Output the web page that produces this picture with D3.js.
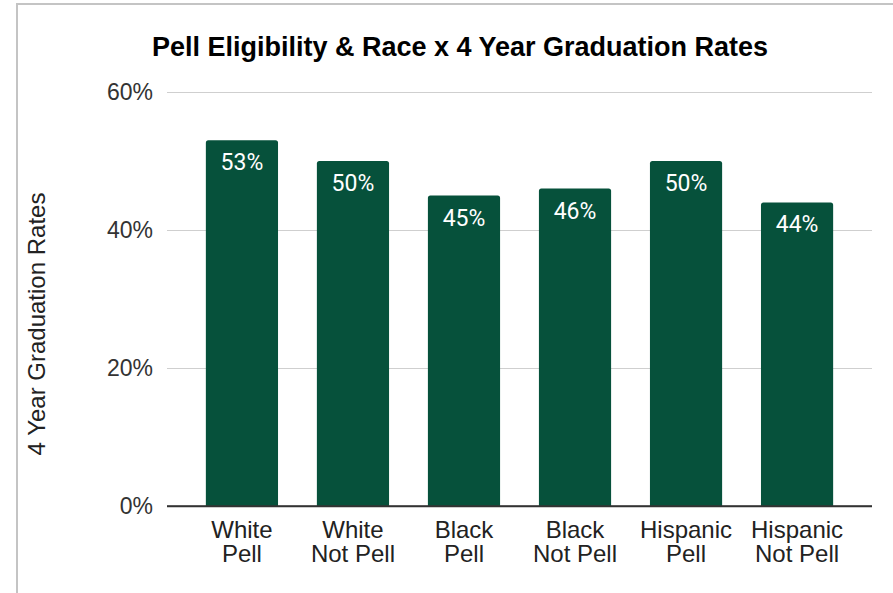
<!DOCTYPE html>
<html>
<head>
<meta charset="utf-8">
<script src="https://cdn.jsdelivr.net/npm/d3@7"></script>
<style>
  html, body { margin: 0; padding: 0; background: #fff; }
  svg { display: block; }
</style>
</head>
<body>
<svg id="chart" width="893" height="593"></svg>
<script>
// Groups along the x axis (each label is drawn on two lines)
const categories = ["White Pell", "White Not Pell", "Black Pell", "Black Not Pell", "Hispanic Pell", "Hispanic Not Pell"];
const categoryLines = [["White", "Pell"], ["White", "Not Pell"], ["Black", "Pell"], ["Black", "Not Pell"], ["Hispanic", "Pell"], ["Hispanic", "Not Pell"]];
// 4-year graduation rate, in percent
const rates = [53, 50, 45, 46, 50, 44];
const yTicks = [0, 20, 40, 60];

const title = "Pell Eligibility & Race x 4 Year Graduation Rates";
const yTitle = "4 Year Graduation Rates";

const svg = d3.select("#chart");
const W = 893, H = 593;
const plot = { left: 167, right: 872, top: 92, bottom: 506 };
const barColor = "#06513b";

// outer frame
svg.append("rect")
  .attr("x", 17).attr("y", 4)
  .attr("width", W + 20).attr("height", H + 20)
  .attr("fill", "#fff")
  .attr("stroke", "#c4c4c4").attr("stroke-width", 2);

const x = d3.scaleBand()
  .domain(categories)
  .range([plot.left, plot.right])
  .paddingInner(0.35)
  .paddingOuter(0.35);

const y = d3.scaleLinear()
  .domain([0, 60])
  .range([plot.bottom, plot.top]);

// gridlines + tick labels
const yAxis = d3.axisLeft(y)
  .tickValues(yTicks)
  .tickFormat(d => d + "%")
  .tickSize(-(plot.right - plot.left))
  .tickPadding(14);

const gy = svg.append("g")
  .attr("transform", `translate(${plot.left},0)`)
  .call(yAxis);
gy.select(".domain").remove();
gy.selectAll(".tick line")
  .attr("stroke", d => d === 0 ? "#333" : "#cfcfcf")
  .attr("stroke-width", d => d === 0 ? 1.3 : 1.2);
gy.selectAll(".tick text")
  .attr("font-family", "'Liberation Sans', Arial, sans-serif")
  .attr("font-size", 23)
  .attr("fill", "#333");

// bars with slightly rounded tops
const r = 2.5;
function barPath(d, i) {
  const x0 = x(categories[i]);
  const w = x.bandwidth();
  const yt = y(d);
  const yb = y(0);
  return `M${x0},${yb}V${yt + r}Q${x0},${yt} ${x0 + r},${yt}H${x0 + w - r}Q${x0 + w},${yt} ${x0 + w},${yt + r}V${yb}Z`;
}

svg.append("g")
  .selectAll("path")
  .data(rates)
  .join("path")
  .attr("d", barPath)
  .attr("fill", barColor);

// baseline drawn above the bars
svg.append("line")
  .attr("x1", plot.left).attr("x2", plot.right)
  .attr("y1", y(0)).attr("y2", y(0))
  .attr("stroke", "#333").attr("stroke-width", 1.3);

// value labels inside the bar tops
svg.append("g")
  .selectAll("text")
  .data(rates)
  .join("text")
  .attr("x", (d, i) => x(categories[i]) + x.bandwidth() / 2)
  .attr("y", d => y(d) + 30)
  .attr("text-anchor", "middle")
  .attr("font-family", "Roboto, 'Liberation Sans', sans-serif")
  .attr("font-size", 23)
  .attr("fill", "#fff")
  .text(d => d + "%");

// category labels
const xl = svg.append("g")
  .selectAll("text")
  .data(categoryLines)
  .join("text")
  .attr("x", (d, i) => x(categories[i]) + x.bandwidth() / 2)
  .attr("y", 538)
  .attr("text-anchor", "middle")
  .attr("font-family", "'Liberation Sans', Arial, sans-serif")
  .attr("font-size", 24)
  .attr("fill", "#222");
xl.selectAll("tspan")
  .data(d => d)
  .join("tspan")
  .attr("x", function () { return d3.select(this.parentNode).attr("x"); })
  .attr("dy", (d, i) => i === 0 ? 0 : 23.5)
  .text(d => d);

// chart title
svg.append("text")
  .attr("x", 460)
  .attr("y", 56)
  .attr("text-anchor", "middle")
  .attr("font-family", "'Liberation Sans', Arial, sans-serif")
  .attr("font-weight", "bold")
  .attr("font-size", 27)
  .attr("fill", "#000")
  .text(title);

// y axis title
svg.append("text")
  .attr("transform", `translate(45,324) rotate(-90)`)
  .attr("text-anchor", "middle")
  .attr("font-family", "'Liberation Sans', Arial, sans-serif")
  .attr("font-size", 24)
  .attr("fill", "#222")
  .text(yTitle);
</script>
</body>
</html>
